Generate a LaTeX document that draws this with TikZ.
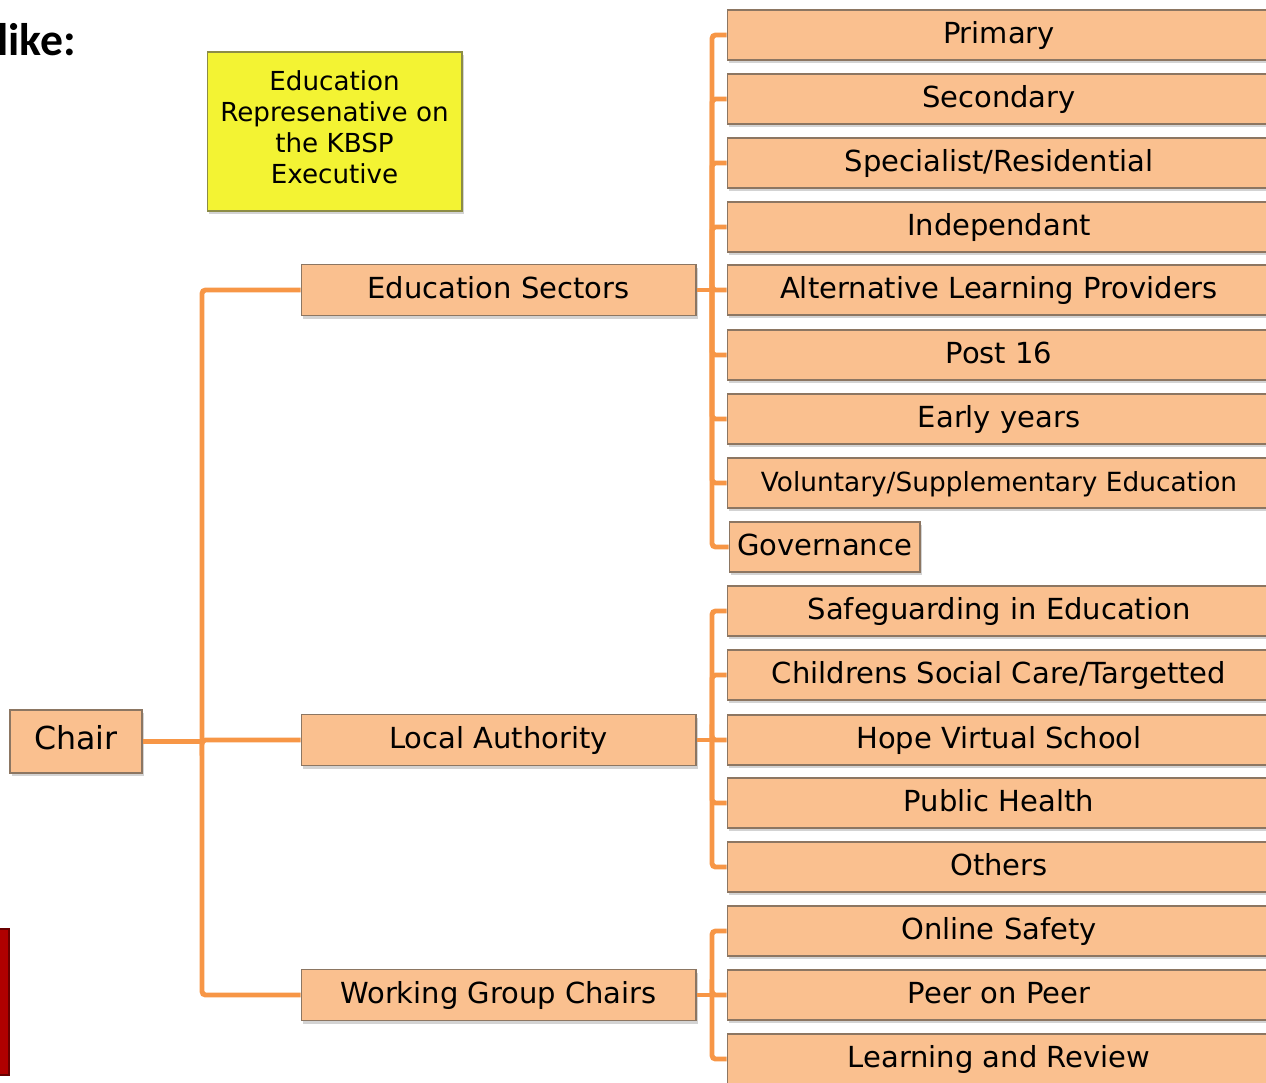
\documentclass[tikz,border=0pt]{standalone}
\usepackage{fontspec}
\setmainfont{DejaVu Sans}
\newfontfamily\likefont{Carlito}
\usetikzlibrary{shadows}
\definecolor{boxfill}{RGB}{250,192,143}
\definecolor{boxline}{RGB}{140,118,98}
\definecolor{linkorange}{RGB}{247,150,70}
\definecolor{notefill}{RGB}{243,243,51}
\definecolor{noteline}{RGB}{140,140,70}
\definecolor{barred}{RGB}{175,0,0}
\begin{document}
\begin{tikzpicture}[x=0.02cm, y=-0.02cm,
    unit/.style={draw=boxline, fill=boxfill, line width=0.6pt, minimum height=1cm, inner sep=0pt,
      text height=0.95em, text depth=0em, font=\fontsize{16.5}{19}\selectfont,
      drop shadow={shadow xshift=1.2pt, shadow yshift=-1.8pt, opacity=0.35}},
    leaf/.style={unit, minimum width=10.88cm},
    group/.style={unit, minimum width=7.9cm, minimum height=1.02cm},
    note/.style={draw=noteline, fill=notefill, line width=0.6pt, minimum width=5.1cm, minimum height=3.18cm,
      align=center, font=\fontsize{14.9}{17.6}\selectfont,
      drop shadow={shadow xshift=1.2pt, shadow yshift=-1.8pt, opacity=0.35}},
    link/.style={draw=linkorange, line width=2.8pt, rounded corners=2pt}]
    \useasboundingbox (0,0) rectangle (1266,1082);
    \clip (0,0) rectangle (1266,1082);

    % Heading and side bar
    \node[anchor=base west, inner sep=0pt, font=\likefont\bfseries\fontsize{26}{30}\selectfont] (like) at (-3,55) {like:};
    \draw[fill=barred, draw=barred!60!black, line width=1pt] (-6,929) rectangle (9,1075);

    % Executive note
    \node[note, text depth=0.5em] (exec) at (334.5,131.5) {Education\\Represenative on\\the KBSP\\Executive};

    % Chair and its groups
    \node[unit, minimum width=2.64cm, minimum height=1.26cm, font=\fontsize{18}{21}\selectfont] (chair) at (76,741.5) {Chair};
    \node[group] (edu) at (498.5,290) {Education Sectors};
    \node[group] (la) at (498.5,740) {Local Authority};
    \node[group] (wg) at (498.5,995) {Working Group Chairs};

    % Education sectors
    \node[leaf] (pri) at (999,35) {Primary};
    \node[leaf] (sec) at (999,99) {Secondary};
    \node[leaf] (spe) at (999,163) {Specialist/Residential};
    \node[leaf] (ind) at (999,227) {Independant};
    \node[leaf] (alt) at (999,290) {Alternative Learning Providers};
    \node[leaf] (p16) at (999,355) {Post 16};
    \node[leaf] (ear) at (999,419) {Early years};
    \node[leaf, font=\fontsize{15}{18}\selectfont] (vol) at (999,483) {Voluntary/Supplementary Education};
    \node[unit, minimum width=3.82cm] (gov) at (824.5,547) {Governance};

    % Local authority
    \node[leaf] (saf) at (999,611) {Safeguarding in Education};
    \node[leaf] (csc) at (999,675) {Childrens Social Care/Targetted};
    \node[leaf] (hvs) at (999,740) {Hope Virtual School};
    \node[leaf] (phe) at (999,803) {Public Health};
    \node[leaf] (oth) at (999,867) {Others};

    % Working groups
    \node[leaf] (ons) at (999,931) {Online Safety};
    \node[leaf] (pop) at (999,995) {Peer on Peer};
    \node[leaf] (lar) at (999,1059) {Learning and Review};

    % Connectors from the chair
    \coordinate (cj) at (202,741.5);
    \draw[link] (chair.east) -- (cj);
    \foreach \g in {edu,la,wg}
        \draw[link] (cj) |- (\g.west);

    % Connectors to the sectors
    \coordinate (ej) at (712,290);
    \draw[link] (edu.east) -- (ej);
    \foreach \n in {pri,sec,spe,ind,alt,p16,ear,vol,gov}
        \draw[link] (ej) |- (\n.west);

    \coordinate (lj) at (712,740);
    \draw[link] (la.east) -- (lj);
    \foreach \n in {saf,csc,hvs,phe,oth}
        \draw[link] (lj) |- (\n.west);

    \coordinate (wj) at (712,995);
    \draw[link] (wg.east) -- (wj);
    \foreach \n in {ons,pop,lar}
        \draw[link] (wj) |- (\n.west);
\end{tikzpicture}
\end{document}
